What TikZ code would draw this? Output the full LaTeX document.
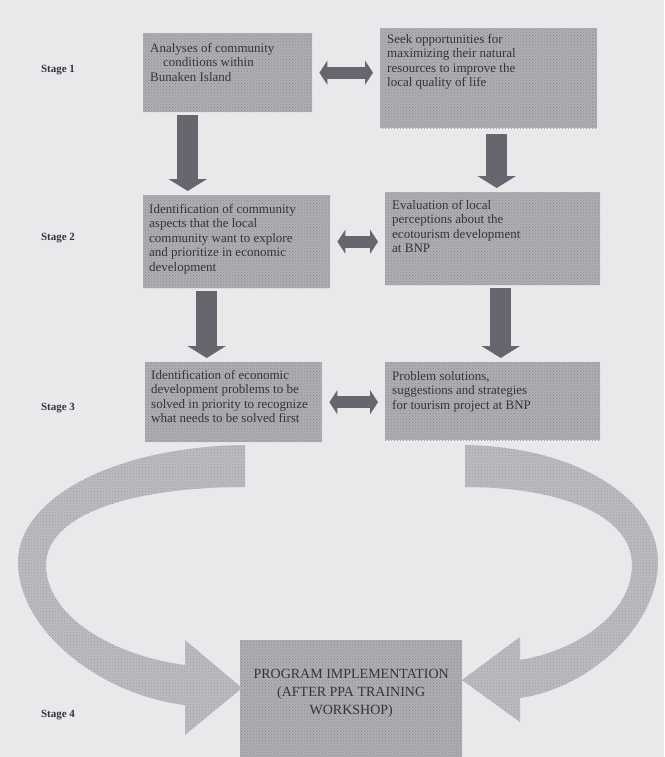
\documentclass[tikz,border=0pt]{standalone}
\usepackage{fontspec}
\setmainfont{Liberation Serif}
\usetikzlibrary{arrows.meta,positioning,patterns}
\definecolor{PageGrey}{HTML}{E9E9EC}
\definecolor{BoxGrey}{HTML}{AEAEB3}
\definecolor{BoxDots}{HTML}{8A8A90}
\definecolor{BandGrey}{HTML}{BCBCC1}
\definecolor{BandDots}{HTML}{9A9AA0}
\definecolor{ArrowGrey}{HTML}{66666E}
\definecolor{InkGrey}{HTML}{34343A}

\begin{document}
\begin{tikzpicture}[
  x=1pt,y=-1pt,
  box/.style={rectangle,fill=BoxGrey,anchor=north west,inner sep=0pt,
    postaction={pattern=crosshatch dots,pattern color=BoxDots}},
  txt/.style={anchor=north west,align=left,inner sep=0pt,text=InkGrey,font=\fontsize{13}{14.5}\selectfont},
  stagelbl/.style={text=InkGrey,font=\fontsize{11}{12}\selectfont\bfseries},
  downarrow/.style={-{Triangle[length=12pt,width=38pt]},line width=21pt,draw=ArrowGrey},
  sidearrow/.style={{Triangle[length=8pt,width=24pt]}-{Triangle[length=8pt,width=24pt]},line width=12pt,draw=ArrowGrey},
  band/.style={fill=BandGrey,postaction={pattern=crosshatch dots,pattern color=BandDots}}
]
\fill[PageGrey] (0,0) rectangle (664,757);
\useasboundingbox (0,0) rectangle (664,757);

\node[stagelbl] (s1) at (58,70) {Stage 1};
\node[stagelbl] (s2) at (58,238) {Stage 2};
\node[stagelbl] (s3) at (58,408) {Stage 3};
\node[stagelbl] (s4) at (58,715) {Stage 4};

\node[box,minimum width=169pt,minimum height=79pt] (b1l) at (143,33) {};
\node[box,minimum width=217pt,minimum height=100pt] (b1r) at (380,28) {};
\node[box,minimum width=187pt,minimum height=93pt] (b2l) at (143,195) {};
\node[box,minimum width=215pt,minimum height=93pt] (b2r) at (385,192) {};
\node[box,minimum width=177pt,minimum height=80pt] (b3l) at (145,362) {};
\node[box,minimum width=215pt,minimum height=78pt] (b3r) at (385,362) {};
\node[box,minimum width=222pt,minimum height=117pt] (b4) at (240,640) {};

\node[txt] (t1l) at ([shift={(7pt,-10pt)}]b1l.north west) {Analyses of community\\\quad conditions within\\Bunaken Island};
\node[txt] (t1r) at ([shift={(7pt,-6pt)}]b1r.north west) {Seek opportunities for\\maximizing their natural\\resources to improve the\\local quality of life};
\node[txt] (t2l) at ([shift={(6pt,-9pt)}]b2l.north west) {Identification of community\\aspects that the local\\community want to explore\\and prioritize in economic\\development};
\node[txt] (t2r) at ([shift={(7pt,-8pt)}]b2r.north west) {Evaluation of local\\perceptions about the\\ecotourism development\\at BNP};
\node[txt] (t3l) at ([shift={(6pt,-8pt)}]b3l.north west) {Identification of economic\\development problems to be\\solved in priority to recognize\\what needs to be solved first};
\node[txt] (t3r) at ([shift={(7pt,-9pt)}]b3r.north west) {Problem solutions,\\suggestions and strategies\\for tourism project at BNP};
\node[txt,anchor=north,align=center,font=\fontsize{14}{18}\selectfont] (t4) at ([yshift=-29pt]b4.north) {PROGRAM IMPLEMENTATION\\(AFTER PPA TRAINING\\WORKSHOP)};

\draw[sidearrow] ([xshift=7pt]b1l.east) -- ([xshift=-7pt]b1l.east -| b1r.west);
\draw[sidearrow] ([xshift=7pt]b2l.east) -- ([xshift=-7pt]b2l.east -| b2r.west);
\draw[sidearrow] ([xshift=7pt]b3l.east) -- ([xshift=-7pt]b3l.east -| b3r.west);

\draw[downarrow] ([xshift=-40pt,yshift=-3pt]b1l.south) -- ([xshift=-40pt,yshift=4pt]b1l.south |- b2l.north);
\draw[downarrow] ([xshift=8pt,yshift=-6pt]b1r.south) -- ([xshift=8pt,yshift=4pt]b1r.south |- b2r.north);
\draw[downarrow] ([xshift=-30pt,yshift=-3pt]b2l.south) -- ([xshift=-30pt,yshift=4pt]b2l.south |- b3l.north);
\draw[downarrow] ([xshift=8pt,yshift=-3pt]b2r.south) -- ([xshift=8pt,yshift=4pt]b2r.south |- b3r.north);

\fill[band] (245,445) .. controls (110,447) and (18,500) .. (18,562)
  .. controls (18,630) and (100,695) .. (185,705) -- (185,735) -- (242,688)
  -- (185,640) -- (185,665) .. controls (110,655) and (46,615) .. (46,565)
  .. controls (46,515) and (130,487) .. (245,487) -- cycle;
\fill[band] (465,445) .. controls (580,447) and (658,500) .. (658,562)
  .. controls (658,625) and (590,688) .. (520,698) -- (520,722) -- (462,680)
  -- (520,637) -- (520,660) .. controls (580,650) and (632,612) .. (632,565)
  .. controls (632,515) and (560,487) .. (465,487) -- cycle;
\end{tikzpicture}
\end{document}
